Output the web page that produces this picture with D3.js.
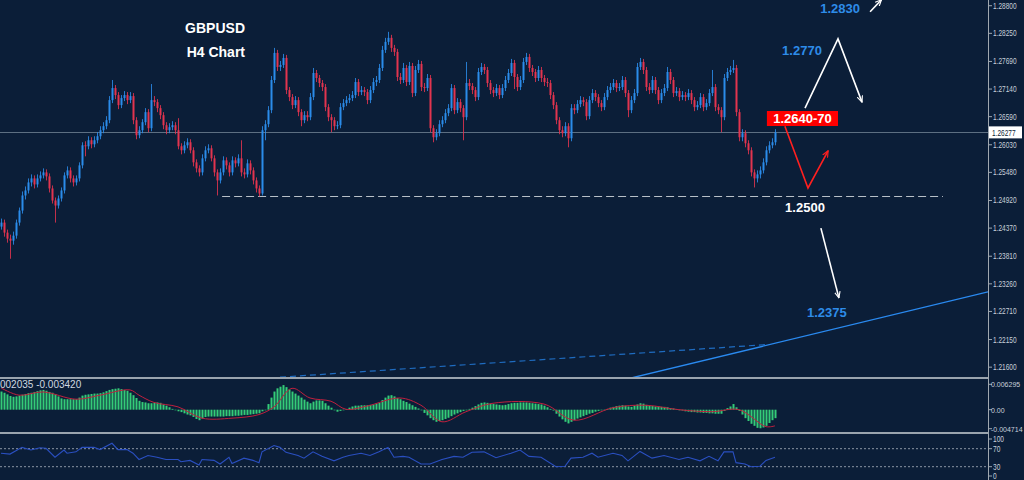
<!DOCTYPE html>
<html><head><meta charset="utf-8">
<script src="https://cdn.jsdelivr.net/npm/d3@7"></script>
<style>html,body{margin:0;padding:0;background:#0b1e38;overflow:hidden}</style>
</head><body><svg id="c" width="1024" height="480"></svg>
<script>
// ---------- DATA ----------
const firstOpen = 1.2440;
const closes = [
1.2448,1.2428,1.2416,1.2412,1.2422,1.2448,1.2472,1.2502,1.2512,1.2528,
1.2536,1.2524,1.2536,1.2542,1.2548,1.2540,1.2516,1.2492,1.2482,1.2496,
1.2512,1.2542,1.2552,1.2536,1.2528,1.2536,1.2562,1.2602,1.2600,1.2612,
1.2604,1.2612,1.2620,1.2632,1.2640,1.2652,1.2692,1.2716,1.2702,1.2682,
1.2696,1.2702,1.2692,1.2700,1.2652,1.2622,1.2632,1.2648,1.2668,1.2636,
1.2692,1.2688,1.2676,1.2662,1.2642,1.2632,1.2638,1.2642,1.2632,1.2600,
1.2592,1.2602,1.2608,1.2592,1.2568,1.2556,1.2548,1.2576,1.2592,1.2596,
1.2576,1.2548,1.2532,1.2548,1.2572,1.2562,1.2548,1.2572,1.2566,1.2576,
1.2548,1.2544,1.2566,1.2552,1.2532,1.2516,1.2506,1.2632,1.2644,1.2672,
1.2732,1.2786,1.2758,1.2762,1.2776,1.2712,1.2698,1.2682,1.2692,1.2668,
1.2652,1.2662,1.2658,1.2698,1.2746,1.2736,1.2726,1.2718,1.2678,1.2658,
1.2652,1.2640,1.2642,1.2678,1.2686,1.2692,1.2696,1.2702,1.2728,1.2708,
1.2712,1.2708,1.2692,1.2712,1.2728,1.2732,1.2756,1.2792,1.2808,1.2816,
1.2796,1.2788,1.2738,1.2732,1.2756,1.2728,1.2760,1.2706,1.2752,1.2764,
1.2718,1.2716,1.2736,1.2636,1.2618,1.2626,1.2644,1.2652,1.2666,1.2676,
1.2716,1.2672,1.2688,1.2676,1.2658,1.2726,1.2720,1.2712,1.2698,1.2748,
1.2758,1.2752,1.2726,1.2712,1.2706,1.2716,1.2702,1.2716,1.2732,1.2746,
1.2766,1.2738,1.2718,1.2732,1.2768,1.2778,1.2756,1.2748,1.2736,1.2752,
1.2736,1.2728,1.2726,1.2702,1.2682,1.2652,1.2632,1.2626,1.2640,1.2616,
1.2676,1.2672,1.2684,1.2692,1.2688,1.2660,1.2692,1.2706,1.2698,1.2686,
1.2678,1.2698,1.2712,1.2718,1.2726,1.2716,1.2718,1.2732,1.2706,1.2672,
1.2692,1.2706,1.2758,1.2768,1.2752,1.2718,1.2712,1.2732,1.2712,1.2692,
1.2706,1.2716,1.2748,1.2732,1.2706,1.2710,1.2698,1.2702,1.2698,1.2706,
1.2692,1.2678,1.2682,1.2698,1.2678,1.2686,1.2706,1.2718,1.2678,1.2672,
1.2658,1.2736,1.2748,1.2752,1.2756,1.2668,1.2618,1.2626,1.2606,1.2592,
1.2548,1.2536,1.2544,1.2552,1.2568,1.2592,1.2602,1.2608,1.26277];
const highs = [
1.2456,1.2454,1.2434,1.2424,1.2430,1.2454,1.2478,1.2510,1.2520,1.2536,
1.2544,1.2542,1.2544,1.2550,1.2556,1.2554,1.2546,1.2522,1.2498,1.2502,
1.2518,1.2548,1.2560,1.2558,1.2542,1.2542,1.2568,1.2608,1.2610,1.2620,
1.2618,1.2620,1.2628,1.2640,1.2648,1.2660,1.2700,1.2732,1.2722,1.2708,
1.2702,1.2710,1.2708,1.2708,1.2706,1.2658,1.2640,1.2654,1.2676,1.2674,
1.2724,1.2700,1.2694,1.2682,1.2668,1.2648,1.2646,1.2650,1.2648,1.2656,
1.2606,1.2610,1.2616,1.2614,1.2598,1.2574,1.2562,1.2584,1.2600,1.2604,
1.2602,1.2582,1.2554,1.2556,1.2580,1.2578,1.2568,1.2580,1.2578,1.2584,
1.2612,1.2556,1.2574,1.2572,1.2558,1.2538,1.2522,1.2640,1.2652,1.2680,
1.2740,1.2796,1.2792,1.2770,1.2784,1.2782,1.2718,1.2704,1.2700,1.2698,
1.2674,1.2670,1.2670,1.2706,1.2756,1.2752,1.2742,1.2732,1.2724,1.2684,
1.2664,1.2658,1.2650,1.2686,1.2694,1.2700,1.2704,1.2710,1.2736,1.2734,
1.2720,1.2718,1.2714,1.2720,1.2736,1.2740,1.2764,1.2800,1.2816,1.2828,
1.2822,1.2802,1.2794,1.2746,1.2766,1.2762,1.2768,1.2766,1.2760,1.2772,
1.2770,1.2726,1.2744,1.2742,1.2642,1.2634,1.2652,1.2660,1.2674,1.2684,
1.2724,1.2722,1.2696,1.2694,1.2682,1.2768,1.2734,1.2726,1.2718,1.2756,
1.2766,1.2764,1.2758,1.2732,1.2718,1.2724,1.2722,1.2724,1.2740,1.2754,
1.2774,1.2772,1.2744,1.2740,1.2776,1.2786,1.2784,1.2762,1.2754,1.2760,
1.2758,1.2742,1.2736,1.2732,1.2708,1.2688,1.2658,1.2640,1.2648,1.2646,
1.2684,1.2684,1.2692,1.2700,1.2698,1.2694,1.2700,1.2714,1.2712,1.2704,
1.2692,1.2706,1.2720,1.2726,1.2734,1.2732,1.2726,1.2740,1.2738,1.2712,
1.2700,1.2714,1.2766,1.2776,1.2774,1.2758,1.2726,1.2740,1.2738,1.2718,
1.2714,1.2724,1.2758,1.2754,1.2738,1.2718,1.2716,1.2710,1.2708,1.2714,
1.2712,1.2698,1.2690,1.2706,1.2704,1.2694,1.2714,1.2752,1.2724,1.2684,
1.2678,1.2744,1.2756,1.2760,1.2772,1.2762,1.2674,1.2634,1.2632,1.2612,
1.2598,1.2554,1.2552,1.2560,1.2576,1.2600,1.2610,1.2616,1.2634];
const lows = [
1.2434,1.2420,1.2408,1.2376,1.2404,1.2416,1.2442,1.2466,1.2494,1.2506,
1.2520,1.2516,1.2518,1.2530,1.2536,1.2532,1.2508,1.2486,1.2448,1.2476,
1.2490,1.2506,1.2536,1.2528,1.2520,1.2522,1.2530,1.2556,1.2580,1.2594,
1.2596,1.2598,1.2606,1.2614,1.2626,1.2634,1.2646,1.2686,1.2694,1.2674,
1.2676,1.2690,1.2684,1.2686,1.2644,1.2614,1.2616,1.2626,1.2642,1.2628,
1.2630,1.2680,1.2668,1.2654,1.2634,1.2624,1.2626,1.2632,1.2624,1.2594,
1.2584,1.2586,1.2596,1.2586,1.2560,1.2548,1.2540,1.2542,1.2570,1.2586,
1.2570,1.2540,1.2502,1.2526,1.2542,1.2554,1.2540,1.2542,1.2558,1.2560,
1.2540,1.2536,1.2538,1.2544,1.2524,1.2508,1.2500,1.2502,1.2612,1.2638,
1.2666,1.2726,1.2750,1.2750,1.2756,1.2704,1.2690,1.2674,1.2676,1.2660,
1.2640,1.2646,1.2650,1.2652,1.2692,1.2728,1.2718,1.2710,1.2670,1.2650,
1.2628,1.2632,1.2634,1.2636,1.2672,1.2680,1.2686,1.2690,1.2696,1.2700,
1.2702,1.2700,1.2684,1.2686,1.2706,1.2720,1.2726,1.2750,1.2786,1.2802,
1.2788,1.2780,1.2730,1.2724,1.2726,1.2720,1.2722,1.2698,1.2700,1.2746,
1.2710,1.2708,1.2710,1.2628,1.2608,1.2612,1.2620,1.2638,1.2646,1.2660,
1.2670,1.2664,1.2666,1.2668,1.2612,1.2652,1.2712,1.2704,1.2690,1.2692,
1.2742,1.2744,1.2718,1.2704,1.2698,1.2700,1.2694,1.2696,1.2710,1.2726,
1.2740,1.2714,1.2710,1.2712,1.2726,1.2762,1.2748,1.2740,1.2728,1.2730,
1.2728,1.2720,1.2718,1.2694,1.2674,1.2644,1.2624,1.2618,1.2620,1.2598,
1.2610,1.2664,1.2666,1.2678,1.2680,1.2652,1.2654,1.2686,1.2690,1.2678,
1.2670,1.2672,1.2692,1.2706,1.2712,1.2708,1.2710,1.2712,1.2698,1.2658,
1.2666,1.2686,1.2700,1.2752,1.2744,1.2710,1.2704,1.2706,1.2704,1.2684,
1.2686,1.2700,1.2710,1.2724,1.2698,1.2700,1.2690,1.2692,1.2690,1.2692,
1.2684,1.2670,1.2672,1.2676,1.2670,1.2672,1.2680,1.2700,1.2670,1.2664,
1.2628,1.2652,1.2730,1.2742,1.2746,1.2660,1.2610,1.2610,1.2598,1.2584,
1.2540,1.2518,1.2528,1.2536,1.2546,1.2562,1.2586,1.2596,1.2602];
const macdHist = [
0.0045,0.0042,0.0038,0.0034,0.0032,0.0033,0.0035,0.0037,0.0039,0.0041,
0.0042,0.0044,0.0046,0.0048,0.0049,0.0047,0.0044,0.0042,0.0038,0.0033,
0.0028,0.0026,0.0026,0.0026,0.0026,0.0026,0.0030,0.0035,0.0037,0.0038,
0.0039,0.0040,0.0040,0.0041,0.0043,0.0046,0.0049,0.0051,0.0052,0.0053,
0.0051,0.0049,0.0047,0.0042,0.0036,0.0029,0.0022,0.0019,0.0018,0.0016,
0.0016,0.0017,0.0018,0.0017,0.0013,0.0010,0.0006,0.0002,-0.0001,-0.0004,
-0.0006,-0.0009,-0.0012,-0.0014,-0.0018,-0.0023,-0.0026,-0.0022,-0.0018,-0.0017,
-0.0017,-0.0017,-0.0017,-0.0017,-0.0017,-0.0016,-0.0016,-0.0016,-0.0015,-0.0015,
-0.0014,-0.0013,-0.0013,-0.0012,-0.0011,-0.0010,-0.0009,-0.0004,0.0000,0.0014,
0.0030,0.0045,0.0053,0.0057,0.0061,0.0056,0.0050,0.0045,0.0040,0.0035,
0.0030,0.0025,0.0020,0.0016,0.0020,0.0023,0.0023,0.0022,0.0016,0.0010,
0.0005,0.0000,-0.0005,-0.0003,-0.0001,0.0001,0.0005,0.0008,0.0010,0.0010,
0.0011,0.0011,0.0011,0.0012,0.0013,0.0015,0.0017,0.0024,0.0030,0.0035,
0.0036,0.0033,0.0029,0.0026,0.0022,0.0019,0.0015,0.0011,0.0007,0.0003,
-0.0001,-0.0008,-0.0014,-0.0021,-0.0026,-0.0030,-0.0028,-0.0026,-0.0023,-0.0020,
-0.0016,-0.0012,-0.0009,-0.0006,-0.0003,-0.0001,0.0002,0.0005,0.0009,0.0013,
0.0017,0.0018,0.0017,0.0015,0.0014,0.0013,0.0012,0.0011,0.0012,0.0014,
0.0016,0.0017,0.0017,0.0018,0.0018,0.0018,0.0017,0.0016,0.0015,0.0014,
0.0013,0.0010,0.0006,0.0002,-0.0002,-0.0010,-0.0017,-0.0024,-0.0030,-0.0034,
-0.0030,-0.0026,-0.0022,-0.0019,-0.0016,-0.0013,-0.0010,-0.0008,-0.0005,-0.0003,
-0.0001,0.0000,0.0002,0.0005,0.0007,0.0009,0.0010,0.0011,0.0010,0.0008,
0.0007,0.0010,0.0013,0.0016,0.0015,0.0012,0.0010,0.0009,0.0008,0.0008,
0.0007,0.0007,0.0006,0.0004,0.0003,0.0001,0.0000,-0.0002,-0.0004,-0.0005,
-0.0006,-0.0006,-0.0007,-0.0007,-0.0008,-0.0008,-0.0009,-0.0009,-0.0010,-0.0010,
-0.0010,-0.0003,0.0004,0.0008,0.0014,0.0006,-0.0003,-0.0012,-0.0021,-0.0028,
-0.0035,-0.0040,-0.0045,-0.0046,-0.0044,-0.0040,-0.0033,-0.0026,-0.0021];
const signalIdx = [0,6,14,25,33,43,46,51,59,67,77,86,91,97,103,110,115,122,133,140,147,155,164,181,191,204,215,226,237,246,255,258];
const signalVal = [0.0054,0.0036,0.0044,0.0026,0.0036,0.0049,0.0036,0.0018,0.0007,-0.0021,-0.0021,-0.0012,0.0007,0.0053,0.0029,0.0021,0.0001,0.0009,0.0029,0.0011,-0.0030,-0.0005,0.0016,0.0014,-0.0026,0.0005,0.0011,0.0000,-0.0005,0.0000,-0.0042,-0.0040];
const rsiIdx = [0,3,7,10,13,15,18,21,22,25,27,31,33,37,39,42,44,46,49,52,55,59,60,63,66,67,71,73,76,77,81,84,86,87,91,93,95,99,101,104,107,111,114,116,120,123,126,129,131,134,136,140,143,147,151,154,157,161,165,170,173,176,180,185,188,190,194,197,199,204,207,209,213,217,221,226,229,233,236,239,241,244,245,248,250,253,255,258];
const rsiVal = [60,58,73,67,72,71,51,67,60,63,73,73,68,82,68,68,60,46,55,51,46,46,41,44,34,46,44,36,51,37,49,44,39,63,77,73,62,55,49,63,53,43,51,55,60,55,63,73,51,53,51,36,36,46,53,51,62,63,50,60,67,53,51,30,31,49,51,60,51,60,55,43,64,49,55,46,51,43,53,43,63,63,39,36,30,31,44,51];
const priceTicks = [1.2880,1.2825,1.2769,1.2714,1.2659,1.2603,1.2548,1.2492,1.2437,1.2381,1.2326,1.2271,1.2215,1.2160];
const priceTickLabels = ["1.28800","1.28250","1.27690","1.27140","1.26590","1.26030","1.25480","1.24920","1.24370","1.23810","1.23260","1.22710","1.22150","1.21600"];
const lastPrice = 1.26277, lastPriceLabel = "1.26277";
const macdTicks = [0.006295, 0, -0.004714];
const macdTickLabels = ["0.006295","0.00","-0.004714"];
const rsiTicks = [100,70,30,0];
const rsiLevels = [70,30];
const macdInfo = "002035 -0.003420";
const title1 = "GBPUSD", title2 = "H4 Chart";
const supportLevel = 1.2500;
// annotations in (candle index, price)
const upPath = [[268,1.2676],[279,1.2814],[287,1.2688]];
const redPath = [[261.3,1.2640],[269,1.2517],[275.7,1.2591]];
const downArrow = [[273.3,1.2437],[279.3,1.2298]];
const smallArrow = [[289.7,1.2868],[293.5,1.2892]];
const trendSolid = [[200,1.2124],[329,1.2310]];
const trendDashed = [[93,1.2140],[255.3,1.2205]];
const labels = [
  {t:"1.2830", i:279.7, p:1.28655, c:"#2e8ce8"},
  {t:"1.2770", i:267, p:1.27818, c:"#2e8ce8"},
  {t:"1.2500", i:268, p:1.24691, c:"#ffffff"},
  {t:"1.2375", i:275.3, p:1.22599, c:"#2e8ce8"}];
const redBox = {t:"1.2640-70", i0:255.3, i1:279, pTop:1.26703, pBot:1.26404};

// ---------- LAYOUT ----------
const W=1024, H=480, axisX=988;
const svg = d3.select("#c");
svg.append("rect").attr("width",W).attr("height",H).attr("fill","#0b1e38");
const x = d3.scaleLinear().domain([0, closes.length-1]).range([1, 775]);
const y = d3.scaleLinear().domain([1.21404, 1.28914]).range([377, 0]);
const ym = d3.scaleLinear().domain([-0.00553, 0.00761]).range([432, 379]);
const yr = d3.scaleLinear().domain([0, 100]).range([480.2, 435.2]);

const defs = svg.append("defs");
defs.append("clipPath").attr("id","mainClip").append("rect").attr("x",0).attr("y",0).attr("width",axisX).attr("height",377);
defs.append("clipPath").attr("id","macdClip").append("rect").attr("x",0).attr("y",379).attr("width",axisX).attr("height",53);
defs.append("clipPath").attr("id","rsiClip").append("rect").attr("x",0).attr("y",434).attr("width",axisX).attr("height",46);
const mk = defs.append("marker").attr("id","arrW").attr("viewBox","0 0 10 10").attr("refX",9).attr("refY",5)
  .attr("markerWidth",7).attr("markerHeight",7).attr("orient","auto").attr("markerUnits","userSpaceOnUse");
mk.append("path").attr("d","M0,1 L9,5 L0,9").attr("fill","none").attr("stroke","#ffffff").attr("stroke-width",1.6);
const mkR = defs.append("marker").attr("id","arrR").attr("viewBox","0 0 10 10").attr("refX",9).attr("refY",5)
  .attr("markerWidth",7).attr("markerHeight",7).attr("orient","auto").attr("markerUnits","userSpaceOnUse");
mkR.append("path").attr("d","M0,1 L9,5 L0,9").attr("fill","none").attr("stroke","#ff2020").attr("stroke-width",1.6);

const main = svg.append("g").attr("clip-path","url(#mainClip)");

// current price line
main.append("line").attr("x1",0).attr("x2",axisX).attr("y1",Math.round(y(lastPrice))+0.5).attr("y2",Math.round(y(lastPrice))+0.5)
  .attr("stroke","#5d6f82").attr("stroke-width",1.2);

// trendlines
const lineGen = d3.line().x(d=>x(d[0])).y(d=>y(d[1]));
main.append("path").attr("d",lineGen(trendDashed)).attr("fill","none").attr("stroke","#1f6cc0").attr("stroke-width",1.2).attr("stroke-dasharray","6,4");
main.append("path").attr("d",lineGen(trendSolid)).attr("fill","none").attr("stroke","#2a8af0").attr("stroke-width",1.4);

// support dashed line
main.append("line").attr("x1",x(73.7)).attr("x2",x(314)).attr("y1",y(supportLevel)).attr("y2",y(supportLevel))
  .attr("stroke","#b8c0c8").attr("stroke-width",1.2).attr("stroke-dasharray","8,4");

// candles
const opens = closes.map((c,i)=> i===0 ? firstOpen : closes[i-1]);
const cg = main.append("g");
closes.forEach((c,i)=>{
  const o = opens[i], up = c >= o, col = up ? "#2b8cea" : "#e3344f";
  const cx = Math.round(x(i));
  cg.append("rect").attr("x",cx).attr("width",1).attr("y",y(highs[i])).attr("height",Math.max(1,y(lows[i])-y(highs[i]))).attr("fill",col).attr("opacity",0.85);
  const top = y(Math.max(o,c)), bot = y(Math.min(o,c));
  cg.append("rect").attr("x",cx-0.5).attr("width",2).attr("y",top).attr("height",Math.max(1,bot-top)).attr("fill",col);
});

// annotations
main.append("path").attr("d",lineGen(upPath)).attr("fill","none").attr("stroke","#ffffff").attr("stroke-width",1.6).attr("marker-end","url(#arrW)");
main.append("path").attr("d",lineGen(downArrow)).attr("fill","none").attr("stroke","#ffffff").attr("stroke-width",1.6).attr("marker-end","url(#arrW)");
main.append("path").attr("d",lineGen(smallArrow)).attr("fill","none").attr("stroke","#ffffff").attr("stroke-width",1.6).attr("marker-end","url(#arrW)");
main.append("path").attr("d",lineGen(redPath)).attr("fill","none").attr("stroke","#ff2020").attr("stroke-width",1.6).attr("marker-end","url(#arrR)");
main.append("rect").attr("x",x(redBox.i0)).attr("y",y(redBox.pTop)).attr("width",x(redBox.i1)-x(redBox.i0)).attr("height",y(redBox.pBot)-y(redBox.pTop)).attr("fill","#ff0000");
main.append("text").attr("x",(x(redBox.i0)+x(redBox.i1))/2).attr("y",y(redBox.pBot)-3).attr("text-anchor","middle")
  .attr("font-family","Liberation Sans, Arial, sans-serif").attr("font-weight","bold").attr("font-size",13).attr("fill","#ffffff").text(redBox.t);
labels.forEach(l=>{
  main.append("text").attr("x",x(l.i)).attr("y",y(l.p)).attr("text-anchor","middle")
    .attr("font-family","Liberation Sans, Arial, sans-serif").attr("font-weight","bold").attr("font-size",13).attr("fill",l.c).text(l.t);
});
svg.append("text").attr("x",245).attr("y",33).attr("text-anchor","end").attr("font-family","Liberation Sans, Arial, sans-serif")
  .attr("font-weight","bold").attr("font-size",14).attr("fill","#ffffff").text(title1);
svg.append("text").attr("x",245).attr("y",57).attr("text-anchor","end").attr("font-family","Liberation Sans, Arial, sans-serif")
  .attr("font-weight","bold").attr("font-size",14).attr("fill","#ffffff").text(title2);

// MACD panel
const mg = svg.append("g").attr("clip-path","url(#macdClip)");
macdHist.forEach((v,i)=>{
  const cx = Math.round(x(i));
  const y0 = ym(0), y1 = ym(v);
  mg.append("rect").attr("x",cx-0.5).attr("width",2).attr("y",Math.min(y0,y1)).attr("height",Math.max(0.6,Math.abs(y1-y0))).attr("fill","#34cc78");
});
const sigLine = d3.line().x(d=>x(d[0])).y(d=>ym(d[1])).curve(d3.curveCatmullRom);
mg.append("path").attr("d",sigLine(signalIdx.map((d,k)=>[d,signalVal[k]]))).attr("fill","none").attr("stroke","#c0203e").attr("stroke-width",1);
svg.append("text").attr("x",0).attr("y",388).attr("font-family","Liberation Sans, Arial, sans-serif").attr("font-size",10).attr("fill","#d0d8e0").text(macdInfo);

// RSI panel
const rg = svg.append("g").attr("clip-path","url(#rsiClip)");
rsiLevels.forEach(l=>{
  rg.append("line").attr("x1",0).attr("x2",axisX).attr("y1",yr(l)).attr("y2",yr(l)).attr("stroke","#8a96a4").attr("stroke-width",1).attr("stroke-dasharray","2,2");
});
const rsiLine = d3.line().x(d=>x(d[0])).y(d=>yr(d[1]));
rg.append("path").attr("d",rsiLine(rsiIdx.map((d,k)=>[d,rsiVal[k]]))).attr("fill","none").attr("stroke","#2a4fc0").attr("stroke-width",1.1);

// separators and axis
[378,433].forEach(sy=>{
  svg.append("line").attr("x1",0).attr("x2",axisX).attr("y1",sy).attr("y2",sy).attr("stroke","#9aa4ae").attr("stroke-width",2);
});
svg.append("line").attr("x1",axisX+0.5).attr("x2",axisX+0.5).attr("y1",0).attr("y2",H).attr("stroke","#a0a8b0").attr("stroke-width",1);

const lblFont = "Liberation Sans, Arial, sans-serif";
function labelLen(t){ let w=0; for(const ch of t){ w += ch==='.' ? 1.7 : (ch==='-' ? 2.4 : 3.65); } return w; }
function axisLabel(yy, txt, small){
  svg.append("line").attr("x1",axisX).attr("x2",axisX+4).attr("y1",yy).attr("y2",yy).attr("stroke","#a0a8b0");
  const t = svg.append("text").attr("y",yy+3).attr("font-family",lblFont).attr("fill","#c8d0da").text(txt);
  if (small) { t.attr("x",axisX+3).attr("font-size",7); }
  else { t.attr("x",axisX+5).attr("font-size",8.5).attr("textLength",labelLen(txt)).attr("lengthAdjust","spacingAndGlyphs"); }
}
priceTicks.forEach((p,k)=>axisLabel(y(p), priceTickLabels[k], false));
macdTicks.forEach((v,k)=>axisLabel(ym(v), macdTickLabels[k], true));
rsiTicks.forEach(v=>axisLabel(Math.max(439,Math.min(476,yr(v))), String(v), false));

// last price box
const ly = y(lastPrice);
svg.append("rect").attr("x",axisX+1).attr("y",ly-6).attr("width",33).attr("height",12).attr("fill","#ffffff");
svg.append("text").attr("x",axisX+4).attr("y",ly+3.2).attr("font-family",lblFont).attr("font-size",8.5)
  .attr("textLength",labelLen(lastPriceLabel)).attr("lengthAdjust","spacingAndGlyphs").attr("fill","#0b1e38").text(lastPriceLabel);
</script></body></html>
